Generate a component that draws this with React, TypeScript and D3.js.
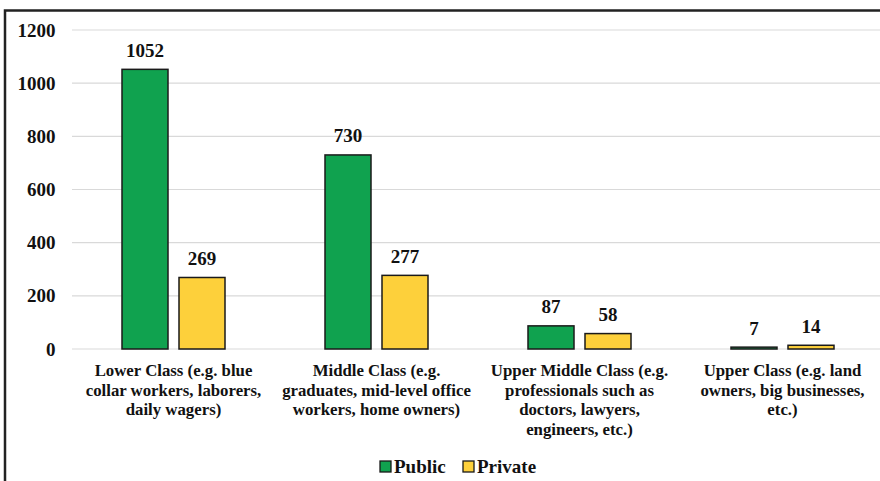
import React from "react";
import * as d3 from "d3";

const categories: string[][] = [
  ["Lower Class (e.g. blue", "collar workers, laborers,", "daily wagers)"],
  ["Middle Class (e.g.", "graduates, mid-level office", "workers, home owners)"],
  ["Upper Middle Class (e.g.", "professionals such as", "doctors, lawyers,", "engineers, etc.)"],
  ["Upper Class (e.g. land", "owners, big businesses,", "etc.)"],
];
const seriesNames = ["Public", "Private"];
const publicValues = [1052, 730, 87, 7];
const privateValues = [269, 277, 58, 14];
const yTicks = [0, 200, 400, 600, 800, 1000, 1200];
const colors = ["#10a24f", "#fdd03b"];

const W = 880;
const H = 481;
const FONT = "Liberation Serif";

export default function App() {
  const x0 = d3.scaleBand<number>().domain(d3.range(categories.length)).range([72, 884]);
  const y = d3.scaleLinear().domain([0, 1200]).range([349, 30]);
  const barW = 46;
  const gap = 11;
  const series = [publicValues, privateValues];
  const txt = { fontFamily: FONT, fontWeight: 700 } as React.CSSProperties;

  return (
    <svg
      width={W}
      height={H}
      style={{ position: "absolute", left: 0, top: 0, background: "#fff" }}
    >
      <rect x={0} y={0} width={W} height={H} fill="#fff" />
      {/* outer frame */}
      <rect x={5} y={10.5} width={W + 20} height={H + 20} fill="none" stroke="#222" strokeWidth={2.5} />
      {/* gridlines */}
      {yTicks.map((t) => (
        <line key={t} x1={72} x2={W} y1={y(t)} y2={y(t)} stroke="#d9d9d9" strokeWidth={1.2} />
      ))}
      {yTicks.map((t) => (
        <text key={"l" + t} x={55.5} y={y(t)} dy="0.35em" textAnchor="end" fontSize={19} style={txt} fill="#111">
          {t}
        </text>
      ))}
      {categories.map((lines, i) => {
        const cx = (x0(i) as number) + x0.bandwidth() / 2;
        return (
          <g key={i}>
            {series.map((vals, s) => {
              const bx = cx - gap / 2 - barW + s * (barW + gap);
              const v = vals[i];
              return (
                <g key={s}>
                  <rect
                    x={bx}
                    y={y(v)}
                    width={barW}
                    height={y(0) - y(v)}
                    fill={colors[s]}
                    stroke="#1a1a1a"
                    strokeWidth={1.5}
                  />
                  <text
                    x={bx + barW / 2}
                    y={y(v) - 12.5}
                    textAnchor="middle"
                    fontSize={19}
                    style={txt}
                    fill="#111"
                  >
                    {v}
                  </text>
                </g>
              );
            })}
            {lines.map((ln, k) => (
              <text
                key={k}
                x={cx}
                y={376 + k * 19.5}
                textAnchor="middle"
                fontSize={16.8}
                style={txt}
                fill="#111"
              >
                {ln}
              </text>
            ))}
          </g>
        );
      })}
      {/* legend */}
      {seriesNames.map((n, s) => {
        const lx = s === 0 ? 380 : 463;
        return (
          <g key={n}>
            <rect x={lx} y={461} width={11} height={11} fill={colors[s]} stroke="#1a1a1a" strokeWidth={1.3} />
            <text x={lx + 14} y={473} fontSize={19} style={txt} fill="#111">
              {n}
            </text>
          </g>
        );
      })}
    </svg>
  );
}
